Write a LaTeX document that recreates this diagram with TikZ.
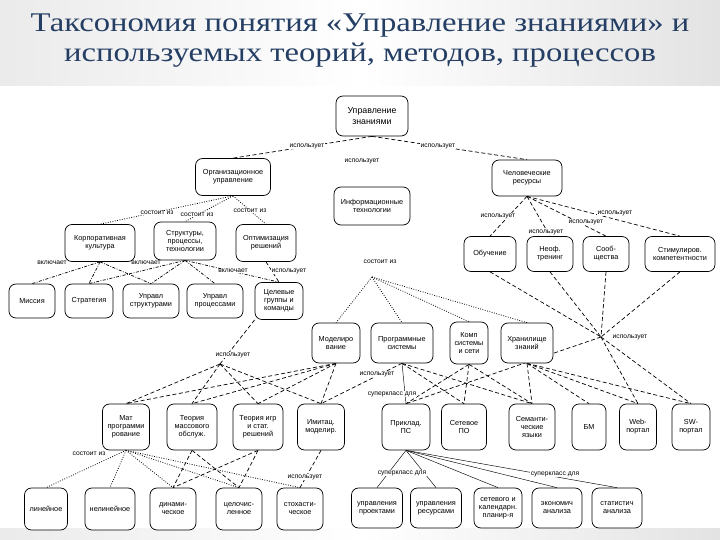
\documentclass[tikz,border=0pt]{standalone}
\usepackage{fontspec}
\setmainfont{Liberation Serif}
\setsansfont{Liberation Sans}
\usetikzlibrary{backgrounds}
\definecolor{titleblue}{RGB}{36,62,100}
\begin{document}
\begin{tikzpicture}[x=1pt,y=-1pt,
  box/.style={draw, line width=0.7pt, rounded corners=7pt, fill=white, align=center, inner sep=1pt, font=\sffamily\fontsize{7.3}{8}\selectfont},
  lab/.style={font=\sffamily\fontsize{6.7}{7}\selectfont, fill=white, inner sep=0.4pt},
  ttl/.style={text=titleblue, anchor=base, inner sep=0pt, font=\fontsize{27}{28}\selectfont},
  uses/.style={line width=0.7pt, dash pattern=on 4pt off 2.5pt},
  cons/.style={line width=0.8pt, dash pattern=on 0.8pt off 1.6pt},
  incl/.style={line width=0.7pt, dash pattern=on 3pt off 1.5pt on 0.8pt off 1.5pt},
  sup/.style={line width=0.45pt}]
\useasboundingbox (0,0) rectangle (720,540);
\begin{scope}[on background layer]
\shade[left color=gray!16, right color=gray!22, middle color=white] (0,0) rectangle (720,540);
\fill[white] (0,86) rectangle (720,528);
\end{scope}
\node[ttl] (title1) at (360,32) {\scalebox{1.21}[1]{Таксономия понятия «Управление знаниями» и}};
\node[ttl] (title2) at (360,62) {\scalebox{1.21}[1]{используемых теорий, методов, процессов}};
% level 0-1
\node[box, minimum width=72, minimum height=40, font=\sffamily\fontsize{8.8}{10.5}\selectfont] (root) at (372,116) {Управление\\знаниями};
\node[box, minimum width=75, minimum height=37] (org) at (233,177) {Организационное\\управление};
\node[box, minimum width=76, minimum height=38] (it) at (372,206) {Информационные\\технологии};
\node[box, minimum width=70, minimum height=36] (hr) at (527,178) {Человеческие\\ресурсы};
% level 2 left
\node[box, minimum width=70, minimum height=37] (kk) at (100,243) {Корпоративная\\культура};
\node[box, minimum width=62, minimum height=38] (spt) at (185,241) {Структуры,\\процессы,\\технологии};
\node[box, minimum width=60, minimum height=37] (opt) at (266,243) {Оптимизация\\решений};
\node[box, minimum width=46, minimum height=34] (mis) at (32,301) {Миссия};
\node[box, minimum width=48, minimum height=34] (str) at (89,301) {Стратегия};
\node[box, minimum width=56, minimum height=34] (ust) at (151,301) {Управл\\структурами};
\node[box, minimum width=56, minimum height=34] (upr) at (215,301) {Управл\\процессами};
\node[box, minimum width=48, minimum height=37] (cel) at (279,301) {Целевые\\группы и\\команды};
% level 2 right
\node[box, minimum width=52, minimum height=35] (obu) at (490,254) {Обучение};
\node[box, minimum width=46, minimum height=35] (neo) at (550,254) {Неоф.\\тренинг};
\node[box, minimum width=46, minimum height=35] (soo) at (606,254) {Сооб-\\щества};
\node[box, minimum width=70, minimum height=35] (sti) at (680,254) {Стимулиров.\\компетентности};
% level 3 middle
\node[box, minimum width=48, minimum height=40] (mod) at (336,343) {Моделиро\\вание};
\node[box, minimum width=62, minimum height=40] (ps) at (402,343) {Программные\\системы};
\node[box, minimum width=38, minimum height=42] (ks) at (469,343) {Комп\\системы\\и сети};
\node[box, minimum width=52, minimum height=40] (hz) at (527,343) {Хранилище\\знаний};
% level 4
\node[box, minimum width=47, minimum height=46] (mp) at (126,427) {Мат\\программи\\рование};
\node[box, minimum width=50, minimum height=46] (tmo) at (192,427) {Теория\\массового\\обслуж.};
\node[box, minimum width=50, minimum height=46] (tig) at (258,427) {Теория игр\\и стат.\\решений};
\node[box, minimum width=47, minimum height=46] (imi) at (321,427) {Имитац.\\моделир.};
\node[box, minimum width=48, minimum height=46] (pps) at (406,427) {Приклад.\\ПС};
\node[box, minimum width=45, minimum height=46] (spo) at (464,427) {Сетевое\\ПО};
\node[box, minimum width=46, minimum height=46] (sem) at (532,427) {Семанти-\\ческие\\языки};
\node[box, minimum width=34, minimum height=46] (bm) at (589,427) {БМ};
\node[box, minimum width=37, minimum height=46] (web) at (638,427) {Web-\\портал};
\node[box, minimum width=38, minimum height=46] (sw) at (691,427) {SW-\\портал};
% level 5
\node[box, minimum width=43, minimum height=42] (lin) at (46,509) {линейное};
\node[box, minimum width=50, minimum height=42] (nel) at (110,509) {нелинейное};
\node[box, minimum width=46, minimum height=42] (din) at (173,509) {динами-\\ческое};
\node[box, minimum width=46, minimum height=42] (cel2) at (239,509) {целочис-\\ленное};
\node[box, minimum width=46, minimum height=42] (sto) at (300,509) {стохасти-\\ческое};
\node[box, minimum width=51, minimum height=40] (upp) at (377,508) {управления\\проектами};
\node[box, minimum width=51, minimum height=40] (upres) at (436,508) {управления\\ресурсами};
\node[box, minimum width=48, minimum height=40] (setp) at (498,508) {сетевого и\\календарн.\\планир-я};
\node[box, minimum width=50, minimum height=40] (eko) at (557,508) {экономич\\анализа};
\node[box, minimum width=50, minimum height=40] (sta) at (617,508) {статистич\\анализа};
% hubs
\coordinate (hIT) at (372,277);
\coordinate (hHR) at (601,337);
\coordinate (hM) at (220,364);
% labels
\node[lab] (l1) at (307,146) {использует};
\node[lab] (l2) at (362,161) {использует};
\node[lab] (l3) at (438,146) {использует};
\node[lab] (l4) at (157,213) {состоит из};
\node[lab] (l5) at (197,215) {состоит из};
\node[lab] (l6) at (250,211) {состоит из};
\node[lab] (l7) at (52,263) {включает};
\node[lab] (l8) at (146,263) {включает};
\node[lab] (l9) at (233,271) {включает};
\node[lab] (l10) at (289,271) {использует};
\node[lab] (l11) at (498,216) {использует};
\node[lab] (l12) at (546,232) {использует};
\node[lab] (l13) at (586,222) {использует};
\node[lab] (l14) at (615,213) {использует};
\node[lab] (l15) at (380,262) {состоит из};
\node[lab] (l16) at (630,337) {использует};
\node[lab] (l17) at (233,355) {использует};
\node[lab] (l18) at (377,374) {использует};
\node[lab] (l19) at (392,394) {суперкласс для};
\node[lab] (l20) at (89,454) {состоит из};
\node[lab] (l21) at (305,477) {использует};
\node[lab] (l22) at (402,473) {суперкласс для};
\node[lab] (l23) at (555,474) {суперкласс для};
% edges
\begin{scope}[on background layer]
\draw[uses] (root.south) -- (org.north);
\draw[uses] (root.south) -- (hr.north);
\draw[cons] (org.south) -- (kk.north);
\draw[cons] (org.south) -- (spt.north);
\draw[cons] (org.south) -- (opt.north);
\draw[incl] (kk.south) -- (mis.north);
\draw[incl] (kk.south) -- (str.north);
\draw[incl] (kk.south) -- (ust.north);
\draw[incl] (spt.south) -- (str.north);
\draw[incl] (spt.south) -- (ust.north);
\draw[incl] (spt.south) -- (upr.north);
\draw[incl] (spt.south) -- (cel.north);
\draw[uses] (opt.south) -- (cel.north);
\draw[uses] (hr.south) -- (obu.north);
\draw[uses] (hr.south) -- (neo.north);
\draw[uses] (hr.south) -- (soo.north);
\draw[uses] (hr.south) -- (sti.north);
\draw[cons] (hIT) -- (mod.north);
\draw[cons] (hIT) -- (ps.north);
\draw[cons] (hIT) -- (ks.north);
\draw[cons] (hIT) -- (hz.north);
\draw[uses] (obu.south) -- (hHR);
\draw[uses] (neo.south) -- (hHR);
\draw[uses] (soo.south) -- (hHR);
\draw[uses] (sti.south) -- (hHR);
\draw[uses] (hHR) -- (pps.north);
\draw[uses] (hHR) -- (web.north);
\draw[uses] (hHR) -- (sw.north);
\draw[uses] (hM) -- (cel.south west);
\draw[uses] (hM) -- (mp.north);
\draw[uses] (hM) -- (tmo.north);
\draw[uses] (hM) -- (tig.north);
\draw[uses] (hM) -- (imi.north);
\draw[uses] (mod.south) -- (mp.north);
\draw[uses] (mod.south) -- (tmo.north);
\draw[uses] (mod.south) -- (tig.north);
\draw[uses] (mod.south) -- (imi.north);
\draw[sup] (ps.south) -- (pps.north);
\draw[uses] (ps.south) -- (imi.north);
\draw[uses] (ps.south) -- (spo.north);
\draw[uses] (ps.south) -- (sem.north);
\draw[uses] (ks.south) -- (pps.north);
\draw[uses] (ks.south) -- (spo.north);
\draw[uses] (ks.south) -- (sem.north);
\draw[uses] (hz.south) -- (sem.north);
\draw[uses] (hz.south) -- (bm.north);
\draw[uses] (hz.south) -- (web.north);
\draw[uses] (hz.south) -- (sw.north);
\draw[cons] (mp.south) -- (lin.north);
\draw[cons] (mp.south) -- (nel.north);
\draw[cons] (mp.south) -- (din.north);
\draw[cons] (mp.south) -- (cel2.north);
\draw[cons] (mp.south) -- (sto.north);
\draw[uses] (tmo.south) -- (din.north);
\draw[uses] (tmo.south) -- (cel2.north);
\draw[uses] (tig.south) -- (din.north);
\draw[uses] (tig.south) -- (cel2.north);
\draw[uses] (imi.south) -- (sto.north);
\draw[sup] (pps.south) -- (upp.north);
\draw[sup] (pps.south) -- (upres.north);
\draw[sup] (pps.south) -- (setp.north);
\draw[sup] (pps.south) -- (eko.north);
\draw[sup] (pps.south) -- (sta.north);
\end{scope}
\end{tikzpicture}
\end{document}
